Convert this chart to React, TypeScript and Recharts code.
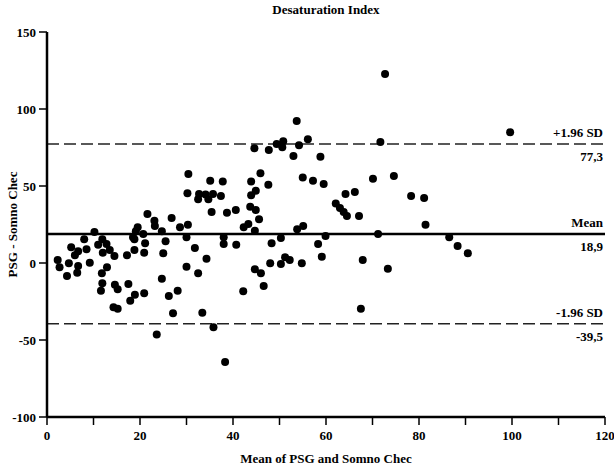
import React from 'react';
import { ScatterChart, Scatter, XAxis, YAxis, ReferenceLine } from 'recharts';

// Mean of PSG and Somno Chec (x) / PSG - Somno Chec (y)
const meanValues = [
  30.4, 30.2, 21.6, 26.8, 23.1, 23.2, 28.6, 30.3, 19.5, 19.1, 24.7, 10.2, 20.7, 18.5, 8.0, 11.9, 25.5, 18.8,
  5.2, 11.0, 12.8, 21.1, 8.5, 6.7, 13.5, 18.8, 20.9, 25.0, 6.0, 12.0, 14.5, 17.2, 9.2, 2.3, 4.7, 2.7, 6.7,
  12.9, 30.0, 6.5, 4.3, 11.8, 24.7,
  11.9, 11.6, 14.6, 15.2, 17.5, 18.9, 17.9, 20.9, 14.3, 15.2, 26.2, 28.1, 27.1, 23.6,
  53.7, 56.1, 50.8, 49.4, 50.6, 54.2, 44.6, 47.7, 53.0, 58.8, 45.9, 35.1, 37.8, 43.9, 47.6, 55.0, 57.2, 59.5,
  32.7, 32.5, 34.1, 34.7, 35.7, 37.4, 44.9, 43.9, 43.7, 44.9, 35.4, 38.7, 40.6, 45.6,
  42.3, 43.3, 44.7, 53.8, 55.1, 30.0, 38.0, 38.0, 40.7, 31.8, 48.3, 50.3, 58.3, 59.9, 34.3, 32.5, 44.7, 46.0,
  48.0, 50.3, 51.2, 52.2, 54.8, 59.1, 42.2, 46.6, 33.4, 35.8, 38.3,
  72.7, 71.7, 70.1, 74.6, 64.2, 66.2, 78.3, 81.1, 62.1, 63.0, 63.8, 64.5, 67.1,
  71.2, 81.4, 86.5, 88.3, 90.5, 67.9, 73.3, 67.5, 99.6,
];

const diffValues = [
  57.8, 45.3, 31.8, 29.2, 27.5, 24.0, 23.2, 24.9, 23.2, 20.6, 20.6, 20.1, 18.8, 16.7, 15.4, 15.4, 14.1, 15.4,
  10.2, 11.9, 12.3, 12.8, 8.9, 7.6, 8.4, 8.4, 6.7, 6.3, 5.0, 6.7, 4.5, 5.0, 0.2, 1.9, -0.2, -2.8, -1.9,
  -2.8, -2.4, -6.3, -8.4, -6.7, -10.2,
  -13.2, -18.0, -14.1, -17.1, -13.6, -20.6, -24.5, -19.7, -28.8, -29.7, -21.4, -18.0, -32.7, -46.5,
  92.2, 80.3, 79.0, 77.3, 75.1, 76.4, 74.5, 73.4, 69.5, 69.0, 58.2, 53.4, 53.0, 53.0, 50.8, 55.6, 53.4, 51.3,
  44.8, 41.4, 44.4, 41.4, 44.8, 43.5, 46.9, 44.0, 36.6, 34.4, 33.1, 32.7, 34.4, 28.4,
  23.2, 25.3, 21.0, 21.9, 24.0, 16.7, 16.7, 12.3, 11.9, 9.7, 12.8, 16.2, 12.3, 17.5, 2.8, -6.7, -4.1, -6.7,
  -0.2, -0.6, 3.7, 1.9, -0.2, 4.1, -18.4, -14.9, -32.3, -41.8, -64.3,
  122.7, 78.6, 54.7, 56.5, 44.8, 46.1, 43.5, 42.2, 38.7, 35.7, 33.1, 30.5, 30.5,
  18.8, 24.9, 16.7, 11.0, 6.3, 1.9, -3.7, -29.7, 84.9,
];

const xTicks = [0, 10, 20, 30, 40, 50, 60, 70, 80, 90, 100, 110, 120];
const yTicks = [-100, -50, 0, 50, 100, 150];

const meanDiff = 18.9;
const upperLimit = 77.3;
const lowerLimit = -39.5;

const data = meanValues.map((m, i) => ({ x: m, y: diffValues[i] }));

const FONT = '"Liberation Serif", "Times New Roman", serif';

const Dot = (props: any) => <circle cx={props.cx} cy={props.cy} r={4} fill="#000" />;

const XTick = (props: any) => {
  const { x, y, payload } = props;
  if (payload.value % 20 !== 0) return null;
  return (
    <text x={x} y={y} dy="0.71em" textAnchor="middle" fontFamily={FONT} fontWeight="bold" fontSize={13} fill="#000">
      {payload.value}
    </text>
  );
};

const lineLabel = (top: string, bottom: string) => (props: any) => {
  const { viewBox } = props;
  const right = viewBox.x + viewBox.width - 2;
  return (
    <g fontFamily={FONT} fontWeight="bold" fontSize={13} fill="#000">
      <text x={right} y={viewBox.y - 7} textAnchor="end">{top}</text>
      <text x={right} y={viewBox.y + 17} textAnchor="end">{bottom}</text>
    </g>
  );
};

const yTitle = (props: any) => {
  const { viewBox } = props;
  const cx = 12;
  const cy = viewBox.y + viewBox.height / 2;
  return (
    <text x={cx} y={cy} transform={`rotate(-90 ${cx} ${cy})`} textAnchor="middle" dominantBaseline="central"
      fontFamily={FONT} fontWeight="bold" fontSize={13} fill="#000">
      PSG - Somno Chec
    </text>
  );
};

export default function App() {
  return (
    <div style={{ position: 'absolute', left: 0, top: 0, width: 614, height: 471, background: '#fff' }}>
      <div style={{ position: 'absolute', left: 47, width: 558, top: 2, textAlign: 'center', fontFamily: FONT, fontWeight: 'bold', fontSize: 13 }}>
        Desaturation Index
      </div>
      <ScatterChart width={614} height={471} margin={{ top: 32, right: 9, left: 0, bottom: 0 }}>
        <XAxis
          type="number"
          dataKey="x"
          domain={[0, 120]}
          ticks={xTicks}
          interval={0}
          height={54}
          axisLine={{ stroke: '#000', strokeWidth: 2.5 }}
          tickLine={{ stroke: '#000', strokeWidth: 1.5 }}
          tickSize={8}
          tickMargin={6}
          tick={<XTick />}
          label={{ value: 'Mean of PSG and Somno Chec', position: 'insideBottom', offset: 8, fontFamily: FONT, fontWeight: 'bold', fontSize: 13, fill: '#000' }}
        />
        <YAxis
          type="number"
          dataKey="y"
          domain={[-100, 150]}
          ticks={yTicks}
          interval={0}
          width={47}
          axisLine={{ stroke: '#000', strokeWidth: 2.5 }}
          tickLine={{ stroke: '#000', strokeWidth: 1.5 }}
          tickSize={8}
          tickMargin={3}
          tick={{ fontFamily: FONT, fontWeight: 'bold', fontSize: 13, fill: '#000' }}
          label={yTitle}
        />
        <ReferenceLine y={upperLimit} stroke="#222" strokeWidth={1.5} strokeDasharray="12 5" label={lineLabel('+1.96 SD', '77,3')} />
        <ReferenceLine y={meanDiff} stroke="#000" strokeWidth={2.5} label={lineLabel('Mean', '18,9')} />
        <ReferenceLine y={lowerLimit} stroke="#222" strokeWidth={1.5} strokeDasharray="12 5" label={lineLabel('-1.96 SD', '-39,5')} />
        <Scatter data={data} shape={<Dot />} isAnimationActive={false} />
      </ScatterChart>
    </div>
  );
}
